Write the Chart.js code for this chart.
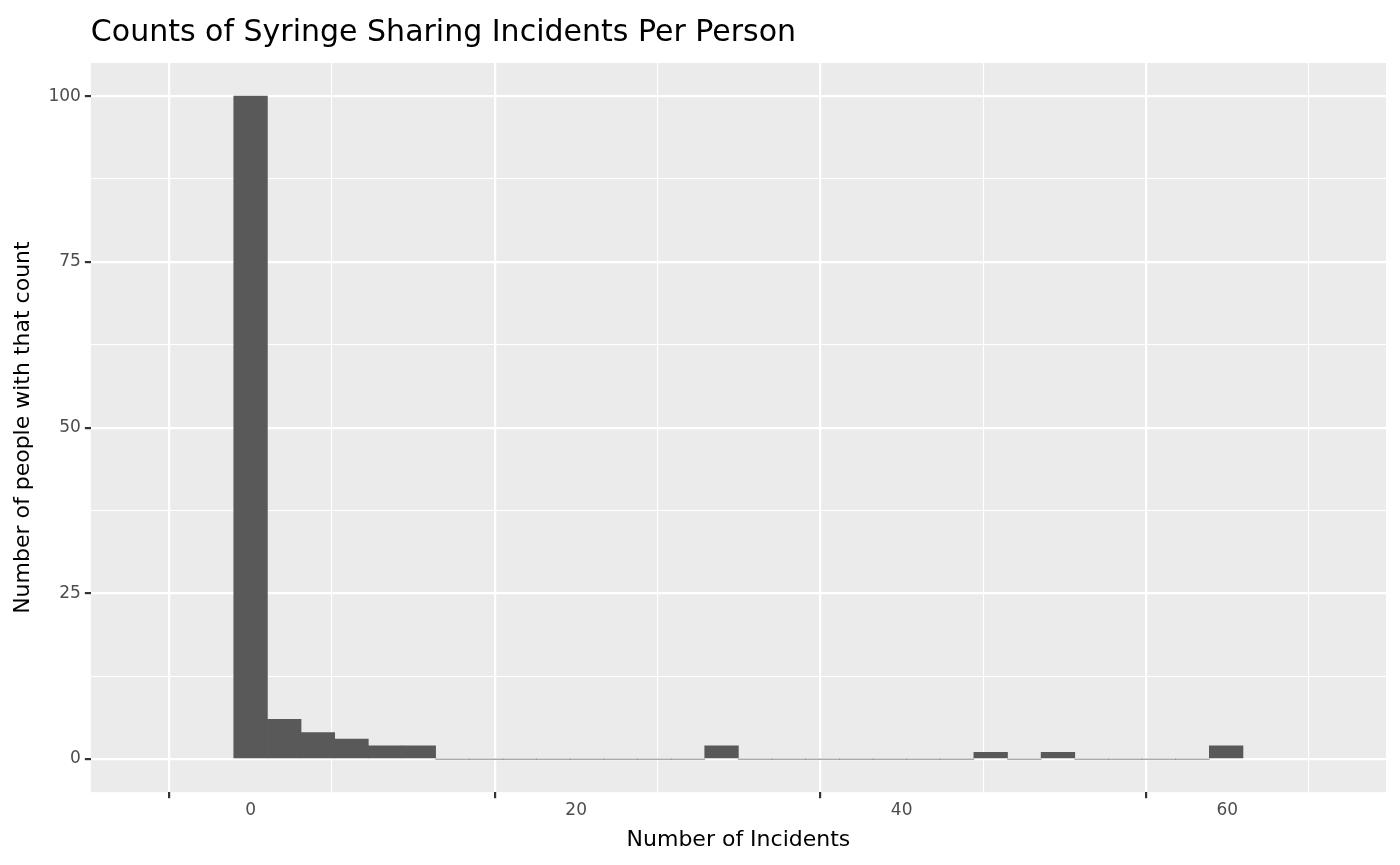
<!DOCTYPE html>
<html>
<head>
<meta charset="utf-8">
<script src="https://cdn.jsdelivr.net/npm/chart.js@4/dist/chart.umd.min.js"></script>
<style>
  body { margin: 0; background: #fff; }
  #wrap { width: 1400px; height: 865px; }
</style>
</head>
<body>
<div id="wrap"><canvas id="canvas"></canvas></div>
<script>
// histogram: 30 bins, width 62/30, centred on 0
const binWidth = 62 / 30;
const binCenters = Array.from({ length: 30 }, (_, i) => i * binWidth);
const binCounts = [100, 6, 4, 3, 2, 2, 0, 0, 0, 0, 0, 0, 0, 0, 2, 0, 0, 0, 0, 0, 0, 0, 1, 0, 1, 0, 0, 0, 0, 2];
const xTicks = [0, 20, 40, 60];
const yTicks = [0, 25, 50, 75, 100];

const panelBg = {
    id: 'panelBg',
    beforeDraw(chart) {
        const { ctx, chartArea: a } = chart;
        ctx.save();
        ctx.fillStyle = '#EBEBEB';
        ctx.fillRect(a.left, a.top, a.right - a.left, a.bottom - a.top);
        ctx.fillStyle = '#000';
        ctx.font = '30px "DejaVu Sans"';
        ctx.textBaseline = 'alphabetic';
        ctx.fillText('Counts of Syringe Sharing Incidents Per Person', a.left, 41);
        ctx.restore();
    }
};

const isMajor = (v, list) => list.some(t => Math.abs(t - v) < 1e-6);
const tickVal = c => (c.tick ? c.tick.value : NaN);

let ctx = document.getElementById('canvas').getContext('2d');
new Chart(ctx, {
    type: 'bar',
    data: {
        datasets: [{
            data: binCenters.map((c, i) => ({ x: c, y: binCounts[i] })),
            backgroundColor: '#595959',
            barPercentage: 1,
            categoryPercentage: 1,
            borderWidth: 0
        }]
    },
    options: {
        responsive: true,
        maintainAspectRatio: false,
        animation: false,
        layout: { padding: { top: 63, right: 14, left: 0, bottom: 0 } },
        plugins: { legend: { display: false }, tooltip: { enabled: false } },
        scales: {
            x: {
                type: 'linear',
                min: -4.13, max: 64.07,
                border: { display: false },
                afterBuildTicks: s => { s.ticks = [0, 10, 20, 30, 40, 50, 60].map(v => ({ value: v })); },
                grid: {
                    color: '#ffffff',
                    lineWidth: c => isMajor(tickVal(c), xTicks) ? 2.2 : 1.1,
                    tickColor: c => isMajor(tickVal(c), xTicks) ? '#333333' : 'rgba(0,0,0,0)',
                    tickLength: 6
                },
                ticks: {
                    color: '#4d4d4d',
                    font: { size: 17, family: 'DejaVu Sans' },
                    padding: 2,
                    maxRotation: 0,
                    autoSkip: false,
                    callback: v => isMajor(v, xTicks) ? v : ''
                },
                title: {
                    display: true, text: 'Number of Incidents', color: '#000',
                    font: { size: 22, family: 'DejaVu Sans' }, padding: { top: 4, bottom: 12 }
                }
            },
            y: {
                min: -5, max: 105,
                border: { display: false },
                afterBuildTicks: s => { s.ticks = [0, 12.5, 25, 37.5, 50, 62.5, 75, 87.5, 100].map(v => ({ value: v })); },
                grid: {
                    color: '#ffffff',
                    lineWidth: c => isMajor(tickVal(c), yTicks) ? 2.2 : 1.1,
                    tickColor: c => isMajor(tickVal(c), yTicks) ? '#333333' : 'rgba(0,0,0,0)',
                    tickLength: 6
                },
                ticks: {
                    color: '#4d4d4d',
                    font: { size: 17, family: 'DejaVu Sans' },
                    padding: 4,
                    autoSkip: false,
                    callback: v => isMajor(v, yTicks) ? v : ''
                },
                title: {
                    display: true, text: 'Number of people with that count', color: '#000',
                    font: { size: 22, family: 'DejaVu Sans' }, padding: { top: 10, bottom: 8 }
                }
            }
        }
    },
    plugins: [panelBg]
});
</script>
</body>
</html>
